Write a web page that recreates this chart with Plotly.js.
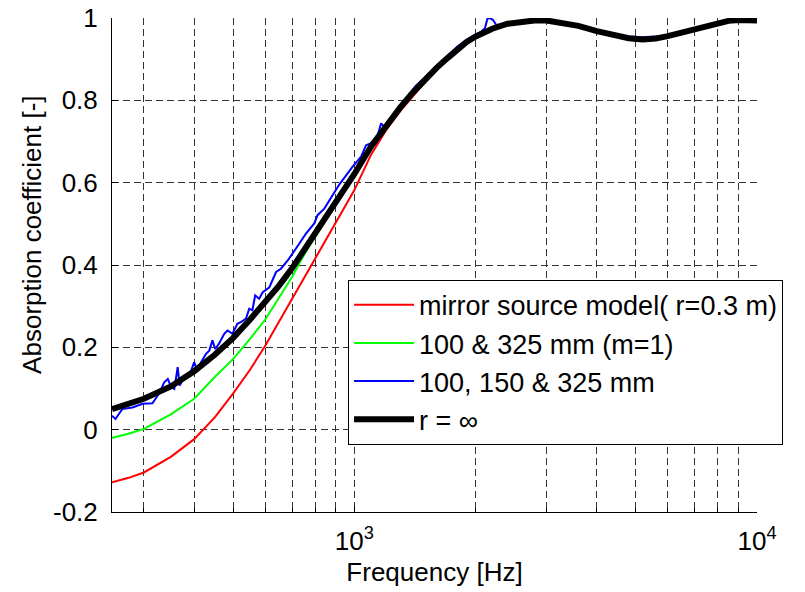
<!DOCTYPE html>
<html>
<head>
<meta charset="utf-8">
<script src="https://cdn.plot.ly/plotly-3.0.1.min.js"></script>
<style>
  html, body { margin: 0; padding: 0; background: #ffffff; }
  #chart { width: 805px; height: 592px; }
</style>
</head>
<body>
<div id="chart"></div>
<script>
// ---- data ----
const freq = [250,275,300,350,400,450,500,550,600,650,700,750,800,850,900,950,1000,1100,1200,1300,1400,1500,1600,1700,1800,1900,2000,2200,2400,2600,2800,3000,3300,3600,4000,4400,4800,5200,5600,6000,6500,7000,7500,8000,8500,9000,9500,10000];

const mirrorModel = [-0.128,-0.117,-0.104,-0.066,-0.023,0.030,0.088,0.145,0.203,0.262,0.318,0.369,0.417,0.461,0.503,0.543,0.582,0.668,0.728,0.774,0.812,0.845,0.873,0.897,0.919,0.937,0.951,0.971,0.984,0.990,0.993,0.993,0.988,0.980,0.967,0.957,0.950,0.947,0.949,0.955,0.963,0.971,0.980,0.987,0.992,0.994,0.994,0.993];

const twoMics = [-0.020,-0.010,0.002,0.037,0.075,0.128,0.172,0.220,0.267,0.322,0.371,0.425,0.470,0.510,0.546,0.582,0.618,0.685,0.737,0.780,0.817,0.849,0.876,0.899,0.921,0.938,0.951,0.970,0.982,0.988,0.990,0.990,0.986,0.979,0.967,0.957,0.950,0.947,0.949,0.955,0.963,0.971,0.980,0.987,0.992,0.994,0.994,0.993];

const rInfinity = [0.050,0.062,0.075,0.105,0.142,0.182,0.223,0.267,0.308,0.350,0.392,0.437,0.478,0.517,0.551,0.585,0.621,0.688,0.740,0.783,0.820,0.852,0.879,0.902,0.925,0.942,0.955,0.974,0.986,0.992,0.994,0.994,0.989,0.981,0.968,0.958,0.951,0.948,0.950,0.956,0.964,0.972,0.981,0.988,0.993,0.995,0.995,0.994];

const threeMicsFreq = [250,255,265,281,298,315,327,337,344,351,357,364,368,378,392,400,407,416,428,436,444,451,461,475,484,498,512,522,538,548,558,567,580,592,615,639,657,683,716,758,795,810,842,867,918,990,1039,1069,1100,1140,1165,1185,1246,1306,1345,1420,1500,1600,1700,1800,1900,2000,2060,2110,2140,2170,2210,2250,2300,2400,2600,2800,3000,3300,3600,4000,4400,4800,5200,5600,6000,6500,7000,7500,8000,8500,9000,9500,10000];
const threeMics = [0.034,0.026,0.050,0.054,0.063,0.064,0.087,0.115,0.123,0.103,0.099,0.152,0.107,0.127,0.140,0.164,0.144,0.164,0.184,0.192,0.217,0.196,0.209,0.233,0.241,0.233,0.257,0.261,0.270,0.294,0.290,0.326,0.318,0.334,0.346,0.383,0.391,0.411,0.440,0.476,0.501,0.521,0.537,0.558,0.596,0.639,0.663,0.691,0.696,0.712,0.744,0.736,0.760,0.785,0.805,0.835,0.857,0.884,0.907,0.930,0.947,0.960,0.966,0.975,0.998,1.0,0.995,0.983,0.984,0.988,0.993,0.995,0.995,0.990,0.982,0.970,0.961,0.955,0.953,0.955,0.959,0.966,0.975,0.983,0.990,0.994,0.996,0.996,0.995];

const seriesNames = ['mirror source model( r=0.3 m)', '100 & 325 mm (m=1)', '100, 150 & 325 mm', 'r = \u221e'];

const xMajorVals = [1000, 10000];
const xMajorText = ['10<sup>3</sup>', '10<sup>4</sup>'];
const xMinorVals = [300,400,500,600,700,800,900,2000,3000,4000,5000,6000,7000,8000,9000];
const yTickVals = [-0.2,0,0.2,0.4,0.6,0.8,1];
const yTickText = ['-0.2','0','0.2','0.4','0.6','0.8','1'];

const xTitle = 'Frequency [Hz]';
const yTitle = 'Absorption coefficient [-]';

// ---- figure ----
const FONT = '"Liberation Sans", Arial, Helvetica, sans-serif';

const traces = [
  {x: freq, y: mirrorModel, name: seriesNames[0], type: 'scatter', mode: 'lines', line: {color: '#ff0000', width: 2}},
  {x: freq, y: twoMics, name: seriesNames[1], type: 'scatter', mode: 'lines', line: {color: '#00ff00', width: 2}},
  {x: threeMicsFreq, y: threeMics, name: seriesNames[2], type: 'scatter', mode: 'lines', line: {color: '#0000ff', width: 2}},
  {x: freq, y: rInfinity, name: seriesNames[3], type: 'scatter', mode: 'lines', line: {color: '#000000', width: 6}}
];

const GRIDC = '#333333';
const DASH = '7px,4px';

const layout = {
  width: 805,
  height: 592,
  margin: {l: 112, r: 48, t: 18, b: 80, pad: 0},
  paper_bgcolor: '#ffffff',
  plot_bgcolor: '#ffffff',
  font: {family: FONT, size: 26, color: '#000000'},
  showlegend: true,
  xaxis: {
    type: 'log',
    range: [Math.log10(250), 4],
    tickmode: 'array',
    tickvals: xMajorVals,
    ticktext: xMajorText,
    ticks: 'inside',
    ticklen: 6,
    tickcolor: '#000000',
    minor: {
      tickmode: 'array',
      tickvals: xMinorVals,
      ticks: 'inside',
      ticklen: 4,
      tickcolor: '#000000',
      showgrid: true,
      gridcolor: GRIDC,
      gridwidth: 1,
      griddash: DASH
    },
    showline: true,
    linecolor: '#000000',
    linewidth: 1,
    mirror: false,
    showgrid: true,
    gridcolor: GRIDC,
    gridwidth: 1,
    griddash: DASH,
    zeroline: false,
    automargin: false,
    tickfont: {family: FONT, size: 26, color: '#000000'},
    ticklabelstandoff: 6,
    title: {text: xTitle, font: {family: FONT, size: 26, color: '#000000'}, standoff: 7}
  },
  yaxis: {
    range: [-0.2, 1],
    tickmode: 'array',
    tickvals: yTickVals,
    ticktext: yTickText,
    ticks: 'inside',
    ticklen: 6,
    tickcolor: '#000000',
    showline: true,
    linecolor: '#000000',
    linewidth: 1,
    mirror: false,
    showgrid: true,
    gridcolor: GRIDC,
    gridwidth: 1,
    griddash: DASH,
    zeroline: false,
    automargin: false,
    tickfont: {family: FONT, size: 26, color: '#000000'},
    ticklabelstandoff: 8
  },
  legend: {
    x: 0.366, y: 0.47, xanchor: 'left', yanchor: 'top',
    bgcolor: '#ffffff', bordercolor: '#000000', borderwidth: 1,
    font: {family: FONT, size: 27, color: '#000000'},
    itemwidth: 60,
    tracegroupgap: 0
  },
  annotations: [{
    text: yTitle,
    xref: 'paper', yref: 'paper',
    x: -0.124, y: 0.561,
    xanchor: 'center', yanchor: 'middle',
    textangle: -90,
    showarrow: false,
    font: {family: FONT, size: 26, color: '#000000'}
  }]
};

Plotly.newPlot('chart', traces, layout, {displayModeBar: false, staticPlot: true});
</script>
</body>
</html>
